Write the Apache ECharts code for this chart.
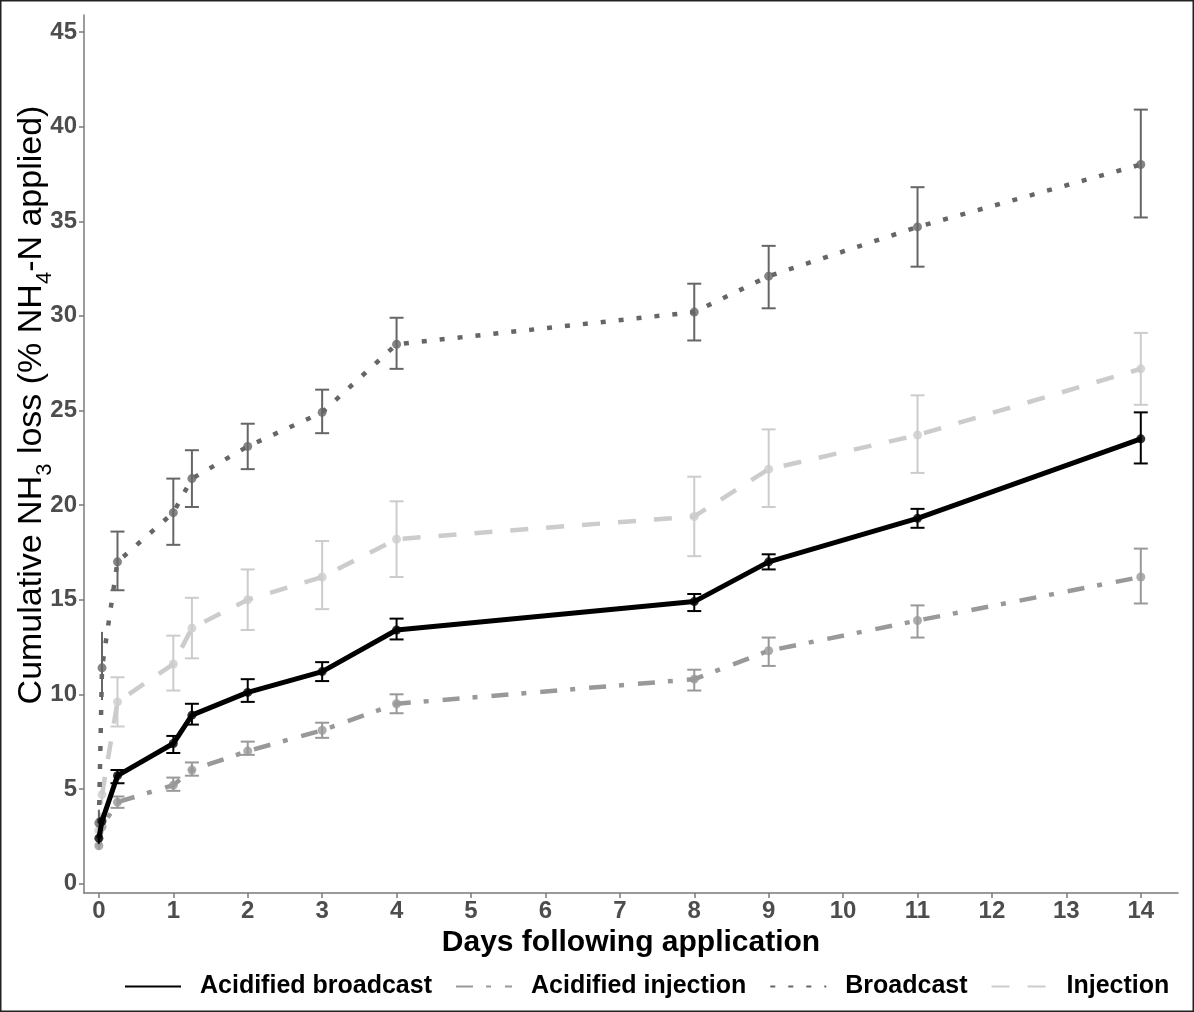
<!DOCTYPE html>
<html>
<head>
<meta charset="utf-8">
<script src="https://cdn.jsdelivr.net/npm/echarts@6/dist/echarts.min.js"></script>
<style>
html,body{margin:0;padding:0;background:#fff;}
#chart{width:1194px;height:1012px;}
</style>
</head>
<body>
<div id="chart"></div>
<script>
// ---- data ----
var days = [0, 0.042, 0.25, 1, 1.25, 2, 3, 4, 8, 9, 11, 14];
var xTicks = [0,1,2,3,4,5,6,7,8,9,10,11,12,13,14];
var yTicks = [0,5,10,15,20,25,30,35,40,45];
var seriesNames = ['Acidified broadcast', 'Acidified injection', 'Broadcast', 'Injection'];

var acidBroadcast   = [2.4, 3.3, 5.7, 7.4, 8.9, 10.1, 11.2, 13.4, 14.9, 17.0, 19.3, 23.5];
var acidBroadcastLo = [2.1, 3.0, 5.3, 6.9, 8.4, 9.6, 10.7, 12.9, 14.4, 16.6, 18.8, 22.2];
var acidBroadcastHi = [2.7, 3.6, 6.0, 7.8, 9.5, 10.8, 11.7, 14.0, 15.3, 17.4, 19.8, 24.9];

var acidInjection   = [2.0, 3.0, 4.3, 5.2, 6.0, 7.0, 8.1, 9.5, 10.8, 12.3, 13.9, 16.2];
var acidInjectionLo = [1.8, 2.7, 4.0, 4.9, 5.7, 6.8, 7.7, 9.0, 10.2, 11.5, 13.0, 14.8];
var acidInjectionHi = [2.2, 3.3, 4.6, 5.6, 6.4, 7.5, 8.5, 10.0, 11.3, 13.0, 14.7, 17.7];

var broadcast   = [3.2, 11.4, 17.0, 19.6, 21.4, 23.1, 24.9, 28.5, 30.2, 32.1, 34.7, 38.0];
var broadcastLo = [2.5, 9.7, 15.5, 17.9, 19.9, 21.9, 23.8, 27.2, 28.7, 30.4, 32.6, 35.2];
var broadcastHi = [3.9, 13.3, 18.6, 21.4, 22.9, 24.3, 26.1, 29.9, 31.7, 33.7, 36.8, 40.9];

var injection   = [2.8, 4.7, 9.6, 11.6, 13.5, 15.0, 16.2, 18.2, 19.4, 21.9, 23.7, 27.2];
var injectionLo = [2.5, 4.2, 8.3, 10.2, 11.9, 13.4, 14.5, 16.2, 17.3, 19.9, 21.7, 25.3];
var injectionHi = [3.1, 5.2, 10.9, 13.1, 15.1, 16.6, 18.1, 20.2, 21.5, 24.0, 25.8, 29.1];

// ---- styles ----
var FONT = '"Liberation Sans", Arial, sans-serif';
var groups = [
  {name: seriesNames[0], v: acidBroadcast, lo: acidBroadcastLo, hi: acidBroadcastHi, color: '#000000', type: 'solid', w: 5, z: 8},
  {name: seriesNames[1], v: acidInjection, lo: acidInjectionLo, hi: acidInjectionHi, color: '#999999', type: [17, 13, 5, 14], w: 4.5, z: 5},
  {name: seriesNames[2], v: broadcast, lo: broadcastLo, hi: broadcastHi, color: '#666666', type: [5, 13], w: 4.5, z: 6},
  {name: seriesNames[3], v: injection, lo: injectionLo, hi: injectionHi, color: '#cccccc', type: [18, 18], w: 4.5, z: 4}
];

function pairs(xs, ys){ return xs.map(function(x,i){ return [x, ys[i]]; }); }

var series = [];
groups.forEach(function(g){
  series.push({
    name: g.name, type: 'line', data: pairs(days, g.v),
    symbol: 'none', showSymbol: false, z: g.z,
    lineStyle: {color: g.color, width: g.w, type: g.type, cap: 'butt'},
    itemStyle: {color: g.color},
    animation: false
  });
  series.push({
    name: g.name + ' err', type: 'custom', z: g.z - 1,
    data: days.map(function(d,i){ return [d, g.lo[i], g.hi[i]]; }),
    renderItem: function(params, api){
      var x = api.value(0);
      var p1 = api.coord([x, api.value(1)]);
      var p2 = api.coord([x, api.value(2)]);
      var hw = x >= 0.2 ? 7 : 0;
      var st = {stroke: g.color, lineWidth: 2};
      var ch = [{type:'line', shape:{x1:p1[0], y1:p1[1], x2:p2[0], y2:p2[1]}, style: st}];
      if (hw > 0) {
        ch.push({type:'line', shape:{x1:p1[0]-hw, y1:p1[1], x2:p1[0]+hw, y2:p1[1]}, style: st});
        ch.push({type:'line', shape:{x1:p2[0]-hw, y1:p2[1], x2:p2[0]+hw, y2:p2[1]}, style: st});
      }
      return {type:'group', children: ch};
    },
    encode: {x: 0, y: [1, 2]},
    animation: false
  });
  series.push({
    name: g.name + ' pts', type: 'scatter', data: pairs(days, g.v),
    symbol: 'circle', symbolSize: 9, z: g.z,
    itemStyle: {color: g.color},
    animation: false
  });
});

var chart = echarts.init(document.getElementById('chart'));
chart.setOption({
  backgroundColor: '#ffffff',
  animation: false,
  textStyle: {fontFamily: FONT},
  grid: {left: 84, right: 16, top: 15, bottom: 119, containLabel: false},
  xAxis: {
    type: 'value', min: -0.2, max: 14.5,
    splitLine: {show: false},
    axisLine: {show: true, onZero: false, lineStyle: {color: '#7a7a7a', width: 1.5}},
    axisTick: {show: true, length: 5, lineStyle: {color: '#7a7a7a', width: 1.5}, customValues: xTicks},
    axisLabel: {show: true, customValues: xTicks, color: '#4d4d4d', fontSize: 24, fontWeight: 'bold', fontFamily: FONT, margin: 6},
    name: 'Days following application', nameLocation: 'middle', nameGap: 35,
    nameTextStyle: {color: '#000', fontSize: 30, fontWeight: 'bold', fontFamily: FONT}
  },
  yAxis: {
    type: 'value', min: -0.5, max: 45.9,
    splitLine: {show: false},
    axisLine: {show: true, onZero: false, lineStyle: {color: '#7a7a7a', width: 1.5}},
    axisTick: {show: true, length: 5, lineStyle: {color: '#7a7a7a', width: 1.5}, customValues: yTicks},
    axisLabel: {show: true, customValues: yTicks, color: '#4d4d4d', fontSize: 24, fontWeight: 'bold', fontFamily: FONT, margin: 7}
  },
  legend: {
    data: seriesNames,
    left: 119, bottom: 8,
    itemWidth: 56, itemHeight: 14, itemGap: 23,
    itemStyle: {opacity: 0},
    textStyle: {color: '#000', fontSize: 25, fontWeight: 'bold', fontFamily: FONT, padding: [0,0,0,14]}
  },
  graphic: [
    {type: 'rect', silent: true, shape: {x: 0.75, y: 0.75, width: 1192.5, height: 1010.5},
     style: {fill: 'none', stroke: '#222', lineWidth: 1.5}},
    {type: 'text', x: 11, y: 405, rotation: Math.PI/2, originX: 0, originY: 0,
     style: {
       text: '{a|Cumulative NH}{s|3}{a| loss (% NH}{s|4}{a|-N applied)}',
       align: 'center', verticalAlign: 'top',
       rich: {
         a: {fontSize: 34, fontFamily: FONT, fill: '#000', verticalAlign: 'bottom', lineHeight: 38},
         s: {fontSize: 22, fontFamily: FONT, fill: '#000', verticalAlign: 'bottom', lineHeight: 38, padding: [0,0,-7,0]}
       }
     }}
  ],
  series: series
});
</script>
</body>
</html>
